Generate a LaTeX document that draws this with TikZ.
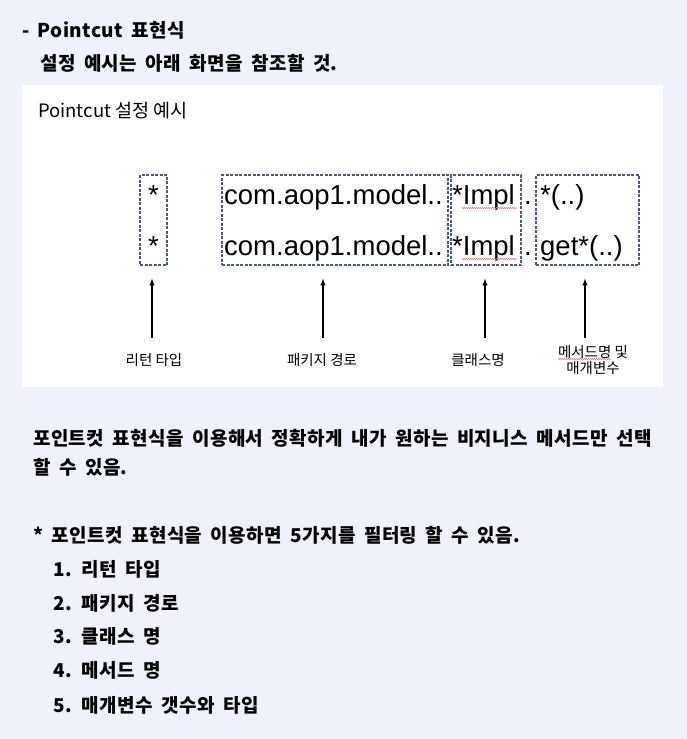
\documentclass[tikz,border=0pt]{standalone}
\usepackage{fontspec}
\setmainfont{Liberation Sans}
\newfontfamily\kr{Noto Sans CJK KR}
\newfontfamily\krhand[LetterSpace=2,WordSpace=1.8]{Noto Sans CJK KR}
\usetikzlibrary{arrows,decorations.pathmorphing}
\definecolor{pagebg}{HTML}{EFF2FA}
\definecolor{boxline}{HTML}{4A5A78}
\definecolor{squig}{HTML}{E07878}

\begin{document}
\begin{tikzpicture}[x=1pt,y=-1pt]
        \tikzset{hand/.style = {anchor=west, inner sep=0pt, font=\krhand\bfseries\fontsize{19}{21}\selectfont}}
        \tikzset{caption/.style = {anchor=west, inner sep=0pt, font=\kr\fontsize{18.5}{20}\selectfont}}
        \tikzset{code/.style = {anchor=base west, inner sep=0pt, font=\fontsize{27.5}{30}\selectfont}}
        \tikzset{field/.style = {draw=boxline, dash pattern=on 3pt off 1.5pt, line width=1.1pt, inner sep=0pt, minimum height=90pt}}
        \tikzset{partname/.style = {inner sep=0pt, font=\kr\fontsize{14.5}{16}\selectfont, align=center}}
        \tikzset{pointer/.style = {-latex, line width=1.3pt, shorten >=13pt}}
        \tikzset{spell/.style = {draw=squig, line width=0.5pt, decorate, decoration={snake, amplitude=0.6pt, segment length=2pt}}}

        \fill[pagebg] (0,0) rectangle (687,739);
        \useasboundingbox (0,0) rectangle (687,739);
        \fill[white] (22,85) rectangle (663,387);

        % heading
        \node[hand] (head) at (22,30) {- Pointcut 표현식};
        \node[hand] (sub) at (40,63) {설정 예시는 아래 화면을 참조할 것.};

        % example panel
        \node[caption] (cap) at (38,111) {Pointcut 설정 예시};

        \node[field, minimum width=27pt] (ret) at (153.5,220) {};
        \node[field, minimum width=226pt] (pkg) at (335,220) {};
        \node[field, minimum width=70pt] (cls) at (486,220) {};
        \node[field, minimum width=103pt] (mth) at (587.5,220) {};

        \node[code] (r1) at (148,204) {*};
        \node[code] (r2) at (148,255) {*};
        \node[code] (p1) at (224,204) {com.aop1.model..};
        \node[code] (p2) at (224,255) {com.aop1.model..};
        \node[code] (c1) at (452,204) {*Impl};
        \node[code] (c2) at (452,255) {*Impl};
        \node[code] (d1) at (524,204) {.};
        \node[code] (d2) at (524,255) {.};
        \node[code] (m1) at (540,204) {*(..)};
        \node[code] (m2) at (540,255) {get*(..)};

        \draw[spell] (462,208) -- (517,208);
        \draw[spell] (462,259) -- (517,259);

        \node[partname] (lret) at (154,360) {리턴 타입};
        \node[partname] (lpkg) at (322,360) {패키지 경로};
        \node[partname] (lcls) at (478,360) {클래스명};
        \node[partname] (lmth) at (593,360) {메서드명 및\\매개변수};
        \draw[spell] (558,359) -- (611,359);

        \coordinate (t1) at (152,338);
        \coordinate (t2) at (323,338);
        \coordinate (t3) at (485,338);
        \coordinate (t4) at (585,338);
        \draw[pointer] (t1) -- (t1 |- ret.south);
        \draw[pointer] (t2) -- (t2 |- pkg.south);
        \draw[pointer] (t3) -- (t3 |- cls.south);
        \draw[pointer] (t4) -- (t4 |- mth.south);

        % notes below
        \node[hand] (n1) at (33,438) {포인트컷 표현식을 이용해서 정확하게 내가 원하는 비지니스 메서드만 선택};
        \node[hand] (n2) at (33,467) {할 수 있음.};
        \node[hand] (n3) at (33,535) {* 포인트컷 표현식을 이용하면 5가지를 필터링 할 수 있음.};
        \node[hand] (i1) at (53,569) {1. 리턴 타입};
        \node[hand] (i2) at (53,603) {2. 패키지 경로};
        \node[hand] (i3) at (53,636) {3. 클래스 명};
        \node[hand] (i4) at (53,670) {4. 메서드 명};
        \node[hand] (i5) at (53,705) {5. 매개변수 갯수와 타입};
\end{tikzpicture}
\end{document}
